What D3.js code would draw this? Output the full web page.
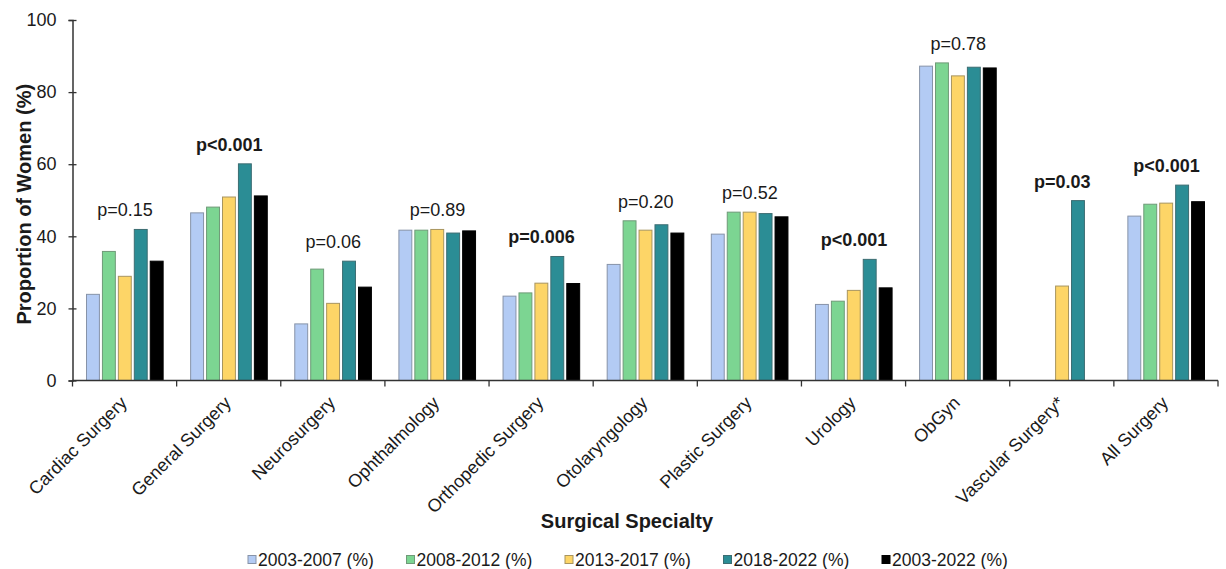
<!DOCTYPE html>
<html>
<head>
<meta charset="utf-8">
<script src="https://cdn.jsdelivr.net/npm/d3@7"></script>
<style>
  body { margin: 0; background: #fff; }
  text { font-family: "Liberation Sans", Arial, sans-serif; fill: #1a1a1a; }
</style>
</head>
<body>
<svg id="chart" width="1226" height="569"></svg>
<script>
// Share of women by surgical specialty and time period
const specialties = ["Cardiac Surgery", "General Surgery", "Neurosurgery", "Ophthalmology",
  "Orthopedic Surgery", "Otolaryngology", "Plastic Surgery", "Urology", "ObGyn",
  "Vascular Surgery*", "All Surgery"];
const periods = ["2003-2007 (%)", "2008-2012 (%)", "2013-2017 (%)", "2018-2022 (%)", "2003-2022 (%)"];

const share2003_2007 = [23.9, 46.5, 15.7, 41.7, 23.4, 32.2, 40.6, 21.1, 87.2, null, 45.6];
const share2008_2012 = [35.8, 48.1, 30.9, 41.7, 24.3, 44.3, 46.7, 22.0, 88.1, null, 48.9];
const share2013_2017 = [28.9, 50.9, 21.4, 41.9, 27.0, 41.7, 46.7, 25.0, 84.5, 26.2, 49.2];
const share2018_2022 = [41.9, 60.1, 33.1, 40.9, 34.4, 43.2, 46.3, 33.6, 86.9, 49.9, 54.2];
const share2003_2022 = [33.1, 51.2, 25.9, 41.5, 26.9, 40.9, 45.4, 25.7, 86.7, null, 49.6];

const pValues = ["p=0.15", "p<0.001", "p=0.06", "p=0.89", "p=0.006", "p=0.20",
  "p=0.52", "p<0.001", "p=0.78", "p=0.03", "p<0.001"];
const pSignificant = [false, true, false, false, true, false, false, true, false, true, true];

const yTicks = [0, 20, 40, 60, 80, 100];

const seriesValues = [share2003_2007, share2008_2012, share2013_2017, share2018_2022, share2003_2022];
const seriesColors = ["#b3cbf4", "#7cd592", "#fdd567", "#2b8d95", "#000000"];
const seriesStrokes = ["#8793a8", "#6f9a78", "#a89560", "#3c6d72", "#000000"];

const svg = d3.select("#chart");
svg.append("rect").attr("width", 1226).attr("height", 569).attr("fill", "#fff");

const plot = { left: 72.5, right: 1218, top: 20, bottom: 380.5 };

const x = d3.scaleBand().domain(specialties).range([plot.left, plot.right]).padding(0);
const bw = x.bandwidth();
const x1 = d3.scaleBand().domain(periods).range([14, bw - 13.5]).paddingInner(0.19).paddingOuter(0);
const y = d3.scaleLinear().domain([0, 100]).range([plot.bottom, plot.top]);

// bars
const rows = [];
specialties.forEach((s, i) => {
  periods.forEach((p, j) => {
    const v = seriesValues[j][i];
    if (v !== null) rows.push({ s, p, j, v });
  });
});

svg.append("g").selectAll("rect").data(rows).join("rect")
  .attr("x", d => x(d.s) + x1(d.p))
  .attr("y", d => y(d.v))
  .attr("width", x1.bandwidth())
  .attr("height", d => y(0) - y(d.v))
  .attr("fill", d => seriesColors[d.j])
  .attr("stroke", d => seriesStrokes[d.j])
  .attr("stroke-width", 1);

// p-value annotations above each group
svg.append("g").selectAll("text").data(specialties).join("text")
  .attr("x", d => x(d) + bw / 2 + 0.5)
  .attr("y", (d, i) => y(d3.max(seriesValues, s => s[i])) - 13)
  .attr("text-anchor", "middle")
  .attr("font-size", 18)
  .attr("font-weight", (d, i) => pSignificant[i] ? "bold" : "normal")
  .text((d, i) => pValues[i]);

// y axis
const yAxis = svg.append("g")
  .attr("transform", `translate(${plot.left},0)`)
  .call(d3.axisLeft(y).tickValues(yTicks).tickSize(4).tickPadding(12));
yAxis.select(".domain").attr("stroke", "#333").attr("stroke-width", 1.5);
yAxis.selectAll(".tick line").attr("x1", 4).attr("stroke", "#333").attr("stroke-width", 1.3);
yAxis.selectAll(".tick text").attr("font-size", 18).attr("font-family", "Liberation Sans, Arial, sans-serif").attr("fill", "#1a1a1a");

// x axis: baseline with tick marks at category boundaries
const xAxis = svg.append("g");
xAxis.append("line")
  .attr("x1", plot.left).attr("x2", plot.right)
  .attr("y1", y(0)).attr("y2", y(0))
  .attr("stroke", "#333").attr("stroke-width", 1.5);
const boundaries = specialties.map(d => x(d)).concat([x.range()[1]]);
xAxis.selectAll("line.tk").data(boundaries).join("line")
  .attr("class", "tk")
  .attr("x1", d => d).attr("x2", d => d)
  .attr("y1", y(0)).attr("y2", y(0) + 6)
  .attr("stroke", "#333").attr("stroke-width", 1.3);

xAxis.selectAll("text").data(specialties).join("text")
  .attr("transform", d => `translate(${x(d) + bw / 2 - 1},${y(0) + 19}) rotate(-45)`)
  .attr("text-anchor", "end")
  .attr("dy", "0.35em")
  .attr("font-size", 18)
  .text(d => d);

// axis titles
svg.append("text")
  .attr("transform", `translate(31,${(plot.top + plot.bottom) / 2 + 4}) rotate(-90)`)
  .attr("text-anchor", "middle")
  .attr("font-size", 20)
  .attr("font-weight", "bold")
  .text("Proportion of Women (%)");

svg.append("text")
  .attr("x", 627).attr("y", 528)
  .attr("text-anchor", "middle")
  .attr("font-size", 20)
  .attr("font-weight", "bold")
  .text("Surgical Specialty");

// legend
const legend = svg.append("g").attr("transform", "translate(248,560)");
const item = legend.selectAll("g").data(periods).join("g")
  .attr("transform", (d, i) => `translate(${i * 158.5},0)`);
item.append("rect")
  .attr("x", 0).attr("y", -4.5).attr("width", 8).attr("height", 8)
  .attr("fill", (d, i) => seriesColors[i])
  .attr("stroke", (d, i) => seriesStrokes[i])
  .attr("stroke-width", 1);
item.append("text")
  .attr("x", 10).attr("dy", "0.35em")
  .attr("font-size", 17.5)
  .text(d => d);
</script>
</body>
</html>
